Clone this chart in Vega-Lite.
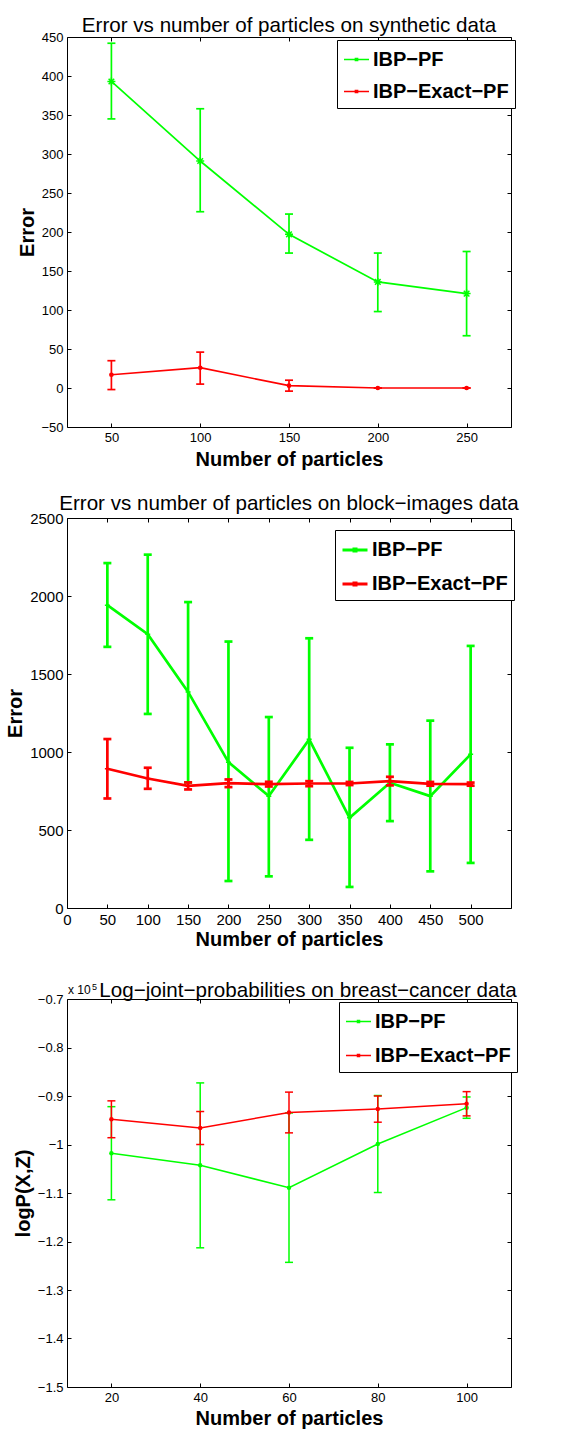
{
  "$schema": "https://vega.github.io/schema/vega-lite/v6.json",
  "padding": {"left": 5, "top": 15, "right": 5, "bottom": 5},
  "background": "white",
  "config": {
    "font": "Liberation Sans",
    "view": {"stroke": "black", "strokeWidth": 1},
    "axis": {
      "grid": false,
      "domain": false,
      "tickSize": -4,
      "tickColor": "black",
      "tickWidth": 1,
      "tickCount": 20,
      "labelColor": "black",
      "labelPadding": 8,
      "labelFlush": false,
      "labelOverlap": false,
      "titleColor": "black",
      "titleFontWeight": "bold",
      "titleFontSize": 20
    },
    "title": {"fontSize": 20.6, "fontWeight": "normal", "color": "black", "baseline": "alphabetic", "anchor": "middle"},
    "legend": {
      "title": null,
      "orient": "none",
      "strokeColor": "black",
      "fillColor": "white",
      "padding": 6,
      "labelFontSize": 20,
      "labelFontWeight": "bold",
      "labelColor": "black",
      "symbolType": "M-1,0H1M-0.08,-0.08H0.08V0.08H-0.08Z",
      "symbolSize": 625,
      "labelOffset": 3
    }
  },
  "bounds": "flush",
  "spacing": 91,
  "resolve": {"scale": {"color": "independent"}, "legend": {"color": "independent"}},
  "vconcat": [
    {
      "width": 444,
      "height": 390,
      "title": {"text": "Error vs number of particles on synthetic data", "offset": -6},
      "data": {"values": [
        {"particles": 50, "method": "IBP−PF", "err": 393, "lo": 345, "hi": 442},
        {"particles": 100, "method": "IBP−PF", "err": 291, "lo": 226, "hi": 358},
        {"particles": 150, "method": "IBP−PF", "err": 197, "lo": 173, "hi": 223},
        {"particles": 200, "method": "IBP−PF", "err": 136, "lo": 98, "hi": 173},
        {"particles": 250, "method": "IBP−PF", "err": 121, "lo": 67, "hi": 175},
        {"particles": 50, "method": "IBP−Exact−PF", "err": 17, "lo": -2, "hi": 35},
        {"particles": 100, "method": "IBP−Exact−PF", "err": 26, "lo": 5, "hi": 46},
        {"particles": 150, "method": "IBP−Exact−PF", "err": 3, "lo": -4, "hi": 10},
        {"particles": 200, "method": "IBP−Exact−PF", "err": 0, "lo": 0, "hi": 0},
        {"particles": 250, "method": "IBP−Exact−PF", "err": 0, "lo": 0, "hi": 0}
      ]},
      "encoding": {
        "x": {"field": "particles", "type": "quantitative", "scale": {"domain": [25, 275], "nice": false, "zero": false}},
        "color": {
          "field": "method", "type": "nominal",
          "scale": {"domain": ["IBP−PF", "IBP−Exact−PF"], "range": ["#00ff00", "#ff0000"]},
          "legend": {"legendX": 270, "legendY": 3, "symbolStrokeWidth": 1.7, "rowPadding": 8}
        }
      },
      "layer": [
        {
          "transform": [{"filter": "datum.method === 'IBP−PF'"}],
          "layer": [
            {"mark": {"type": "line", "strokeWidth": 1.7}, "encoding": {
              "x": {"field": "particles", "type": "quantitative", "scale": {"domain": [25, 275], "nice": false, "zero": false},
                    "axis": {"orient": "bottom", "values": [50, 100, 150, 200, 250], "tickCount": 20, "format": "d", "title": "Number of particles", "labelFontSize": 13, "titlePadding": 5, "labelOverlap": false}},
              "y": {"field": "err", "type": "quantitative", "scale": {"domain": [-50, 450], "nice": false, "zero": false},
                    "axis": {"orient": "left", "values": [-50, 0, 50, 100, 150, 200, 250, 300, 350, 400, 450], "tickCount": 20, "format": "d", "title": "Error", "labelFontSize": 13, "titlePadding": 3, "labelOverlap": false}}
            }},
            {"mark": {"type": "rule", "strokeWidth": 1.7}, "encoding": {"y": {"field": "lo", "type": "quantitative", "scale": {"domain": [-50, 450], "nice": false, "zero": false}}, "y2": {"field": "hi"}}},
            {"mark": {"type": "tick", "orient": "horizontal", "size": 8, "thickness": 1.7, "opacity": 1}, "encoding": {"y": {"field": "lo", "type": "quantitative", "scale": {"domain": [-50, 450], "nice": false, "zero": false}}}},
            {"mark": {"type": "tick", "orient": "horizontal", "size": 8, "thickness": 1.7, "opacity": 1}, "encoding": {"y": {"field": "hi", "type": "quantitative", "scale": {"domain": [-50, 450], "nice": false, "zero": false}}}},
            {"mark": {"type": "point", "shape": "M-1,0L1,0M0,-1L0,1M-0.7,-0.7L0.7,0.7M-0.7,0.7L0.7,-0.7", "size": 64, "filled": false, "strokeWidth": 1.5, "opacity": 1},
             "encoding": {"y": {"field": "err", "type": "quantitative", "scale": {"domain": [-50, 450], "nice": false, "zero": false}}}}
          ]
        },
        {
          "transform": [{"filter": "datum.method === 'IBP−Exact−PF'"}],
          "layer": [
            {"mark": {"type": "line", "strokeWidth": 1.7}, "encoding": {
              "x": {"field": "particles", "type": "quantitative", "scale": {"domain": [25, 275], "nice": false, "zero": false},
                    "axis": {"orient": "top", "values": [50, 100, 150, 200, 250], "tickCount": 20, "labels": false, "title": null}},
              "y": {"field": "err", "type": "quantitative", "scale": {"domain": [-50, 450], "nice": false, "zero": false},
                    "axis": {"orient": "right", "values": [-50, 0, 50, 100, 150, 200, 250, 300, 350, 400, 450], "tickCount": 20, "labels": false, "title": null}}
            }},
            {"mark": {"type": "rule", "strokeWidth": 1.7}, "encoding": {"y": {"field": "lo", "type": "quantitative", "scale": {"domain": [-50, 450], "nice": false, "zero": false}}, "y2": {"field": "hi"}}},
            {"mark": {"type": "tick", "orient": "horizontal", "size": 8, "thickness": 1.7, "opacity": 1}, "encoding": {"y": {"field": "lo", "type": "quantitative", "scale": {"domain": [-50, 450], "nice": false, "zero": false}}}},
            {"mark": {"type": "tick", "orient": "horizontal", "size": 8, "thickness": 1.7, "opacity": 1}, "encoding": {"y": {"field": "hi", "type": "quantitative", "scale": {"domain": [-50, 450], "nice": false, "zero": false}}}},
            {"mark": {"type": "point", "shape": "circle", "size": 22, "filled": true, "opacity": 1},
             "encoding": {"y": {"field": "err", "type": "quantitative", "scale": {"domain": [-50, 450], "nice": false, "zero": false}}}}
          ]
        }
      ],
      "resolve": {"axis": {"x": "independent", "y": "independent"}}
    },
    {
      "width": 444,
      "height": 390,
      "title": {"text": "Error vs number of particles on block−images data", "offset": -4},
      "data": {"values": [
        {"particles": 50, "method": "IBP−PF", "err": 1941, "lo": 1674, "hi": 2211},
        {"particles": 100, "method": "IBP−PF", "err": 1755, "lo": 1244, "hi": 2265},
        {"particles": 150, "method": "IBP−PF", "err": 1385, "lo": 805, "hi": 1961},
        {"particles": 200, "method": "IBP−PF", "err": 935, "lo": 173, "hi": 1708},
        {"particles": 250, "method": "IBP−PF", "err": 717, "lo": 203, "hi": 1224},
        {"particles": 300, "method": "IBP−PF", "err": 1081, "lo": 437, "hi": 1729},
        {"particles": 350, "method": "IBP−PF", "err": 578, "lo": 135, "hi": 1027},
        {"particles": 400, "method": "IBP−PF", "err": 803, "lo": 557, "hi": 1049},
        {"particles": 450, "method": "IBP−PF", "err": 717, "lo": 235, "hi": 1201},
        {"particles": 500, "method": "IBP−PF", "err": 985, "lo": 289, "hi": 1680},
        {"particles": 50, "method": "IBP−Exact−PF", "err": 893, "lo": 702, "hi": 1083},
        {"particles": 100, "method": "IBP−Exact−PF", "err": 830, "lo": 764, "hi": 899},
        {"particles": 150, "method": "IBP−Exact−PF", "err": 783, "lo": 760, "hi": 805},
        {"particles": 200, "method": "IBP−Exact−PF", "err": 800, "lo": 775, "hi": 824},
        {"particles": 250, "method": "IBP−Exact−PF", "err": 794, "lo": 779, "hi": 809},
        {"particles": 300, "method": "IBP−Exact−PF", "err": 798, "lo": 781, "hi": 813},
        {"particles": 350, "method": "IBP−Exact−PF", "err": 798, "lo": 788, "hi": 808},
        {"particles": 400, "method": "IBP−Exact−PF", "err": 813, "lo": 786, "hi": 841},
        {"particles": 450, "method": "IBP−Exact−PF", "err": 796, "lo": 784, "hi": 808},
        {"particles": 500, "method": "IBP−Exact−PF", "err": 794, "lo": 784, "hi": 804}
      ]},
      "encoding": {
        "x": {"field": "particles", "type": "quantitative", "scale": {"domain": [0, 550], "nice": false, "zero": false}},
        "color": {
          "field": "method", "type": "nominal",
          "scale": {"domain": ["IBP−PF", "IBP−Exact−PF"], "range": ["#00ff00", "#ff0000"]},
          "legend": {"legendX": 268, "legendY": 12, "symbolStrokeWidth": 3, "rowPadding": 10}
        }
      },
      "layer": [
        {
          "transform": [{"filter": "datum.method === 'IBP−PF'"}],
          "layer": [
            {"mark": {"type": "line", "strokeWidth": 2.7}, "encoding": {
              "x": {"field": "particles", "type": "quantitative", "scale": {"domain": [0, 550], "nice": false, "zero": false},
                    "axis": {"orient": "bottom", "values": [0, 50, 100, 150, 200, 250, 300, 350, 400, 450, 500], "tickCount": 20, "format": "d", "title": "Number of particles", "labelFontSize": 15, "titlePadding": 2, "labelOverlap": false}},
              "y": {"field": "err", "type": "quantitative", "scale": {"domain": [0, 2500], "nice": false, "zero": false},
                    "axis": {"orient": "left", "values": [0, 500, 1000, 1500, 2000, 2500], "tickCount": 20, "format": "d", "title": "Error", "labelFontSize": 15, "titlePadding": 4, "labelOverlap": false}}
            }},
            {"mark": {"type": "rule", "strokeWidth": 2.7}, "encoding": {"y": {"field": "lo", "type": "quantitative", "scale": {"domain": [0, 2500], "nice": false, "zero": false}}, "y2": {"field": "hi"}}},
            {"mark": {"type": "tick", "orient": "horizontal", "size": 8, "thickness": 2.7, "opacity": 1}, "encoding": {"y": {"field": "lo", "type": "quantitative", "scale": {"domain": [0, 2500], "nice": false, "zero": false}}}},
            {"mark": {"type": "tick", "orient": "horizontal", "size": 8, "thickness": 2.7, "opacity": 1}, "encoding": {"y": {"field": "hi", "type": "quantitative", "scale": {"domain": [0, 2500], "nice": false, "zero": false}}}},
            {"mark": {"type": "point", "shape": "M-1,0L1,0M0,-1L0,1", "size": 25, "filled": false, "strokeWidth": 1.5, "opacity": 1},
             "encoding": {"y": {"field": "err", "type": "quantitative", "scale": {"domain": [0, 2500], "nice": false, "zero": false}}}}
          ]
        },
        {
          "transform": [{"filter": "datum.method === 'IBP−Exact−PF'"}],
          "layer": [
            {"mark": {"type": "line", "strokeWidth": 2.7}, "encoding": {
              "x": {"field": "particles", "type": "quantitative", "scale": {"domain": [0, 550], "nice": false, "zero": false},
                    "axis": {"orient": "top", "values": [0, 50, 100, 150, 200, 250, 300, 350, 400, 450, 500], "tickCount": 20, "labels": false, "title": null}},
              "y": {"field": "err", "type": "quantitative", "scale": {"domain": [0, 2500], "nice": false, "zero": false},
                    "axis": {"orient": "right", "values": [0, 500, 1000, 1500, 2000, 2500], "tickCount": 20, "labels": false, "title": null}}
            }},
            {"mark": {"type": "rule", "strokeWidth": 2.7}, "encoding": {"y": {"field": "lo", "type": "quantitative", "scale": {"domain": [0, 2500], "nice": false, "zero": false}}, "y2": {"field": "hi"}}},
            {"mark": {"type": "tick", "orient": "horizontal", "size": 8, "thickness": 2.7, "opacity": 1}, "encoding": {"y": {"field": "lo", "type": "quantitative", "scale": {"domain": [0, 2500], "nice": false, "zero": false}}}},
            {"mark": {"type": "tick", "orient": "horizontal", "size": 8, "thickness": 2.7, "opacity": 1}, "encoding": {"y": {"field": "hi", "type": "quantitative", "scale": {"domain": [0, 2500], "nice": false, "zero": false}}}},
            {"mark": {"type": "point", "shape": "M-1,0L1,0M0,-1L0,1", "size": 25, "filled": false, "strokeWidth": 1.5, "opacity": 1},
             "encoding": {"y": {"field": "err", "type": "quantitative", "scale": {"domain": [0, 2500], "nice": false, "zero": false}}}}
          ]
        }
      ],
      "resolve": {"axis": {"x": "independent", "y": "independent"}}
    },
    {
      "width": 444,
      "height": 388,
      "title": {"text": "Log−joint−probabilities on breast−cancer data", "offset": -19, "dx": 19},
      "data": {"values": [
        {"particles": 20, "method": "IBP−PF", "logp_1e5": -1.018, "lo": -1.114, "hi": -0.922},
        {"particles": 40, "method": "IBP−PF", "logp_1e5": -1.043, "lo": -1.213, "hi": -0.873},
        {"particles": 60, "method": "IBP−PF", "logp_1e5": -1.089, "lo": -1.243, "hi": -0.935},
        {"particles": 80, "method": "IBP−PF", "logp_1e5": -0.999, "lo": -1.099, "hi": -0.899},
        {"particles": 100, "method": "IBP−PF", "logp_1e5": -0.924, "lo": -0.946, "hi": -0.902},
        {"particles": 20, "method": "IBP−Exact−PF", "logp_1e5": -0.948, "lo": -0.986, "hi": -0.910},
        {"particles": 40, "method": "IBP−Exact−PF", "logp_1e5": -0.966, "lo": -1.000, "hi": -0.932},
        {"particles": 60, "method": "IBP−Exact−PF", "logp_1e5": -0.934, "lo": -0.976, "hi": -0.892},
        {"particles": 80, "method": "IBP−Exact−PF", "logp_1e5": -0.927, "lo": -0.954, "hi": -0.900},
        {"particles": 100, "method": "IBP−Exact−PF", "logp_1e5": -0.916, "lo": -0.941, "hi": -0.891}
      ]},
      "encoding": {
        "x": {"field": "particles", "type": "quantitative", "scale": {"domain": [10, 110], "nice": false, "zero": false}},
        "color": {
          "field": "method", "type": "nominal",
          "scale": {"domain": ["IBP−PF", "IBP−Exact−PF"], "range": ["#00ff00", "#ff0000"]},
          "legend": {"legendX": 272, "legendY": 3, "symbolStrokeWidth": 1.5, "rowPadding": 10}
        }
      },
      "layer": [
        {
          "transform": [{"filter": "datum.method === 'IBP−PF'"}],
          "layer": [
            {"mark": {"type": "line", "strokeWidth": 1.5}, "encoding": {
              "x": {"field": "particles", "type": "quantitative", "scale": {"domain": [10, 110], "nice": false, "zero": false},
                    "axis": {"orient": "bottom", "values": [20, 40, 60, 80, 100], "tickCount": 20, "format": "d", "title": "Number of particles", "labelFontSize": 13, "titlePadding": 4, "labelOverlap": false}},
              "y": {"field": "logp_1e5", "type": "quantitative", "scale": {"domain": [-1.5, -0.7], "nice": false, "zero": false},
                    "axis": {"orient": "left", "values": [-1.5, -1.4, -1.3, -1.2, -1.1, -1, -0.9, -0.8, -0.7], "tickCount": 20, "format": ".1~f", "title": "logP(X,Z)", "labelFontSize": 13, "titlePadding": 4, "labelOverlap": false}}
            }},
            {"mark": {"type": "rule", "strokeWidth": 1.5}, "encoding": {"y": {"field": "lo", "type": "quantitative", "scale": {"domain": [-1.5, -0.7], "nice": false, "zero": false}}, "y2": {"field": "hi"}}},
            {"mark": {"type": "tick", "orient": "horizontal", "size": 8, "thickness": 1.5, "opacity": 1}, "encoding": {"y": {"field": "lo", "type": "quantitative", "scale": {"domain": [-1.5, -0.7], "nice": false, "zero": false}}}},
            {"mark": {"type": "tick", "orient": "horizontal", "size": 8, "thickness": 1.5, "opacity": 1}, "encoding": {"y": {"field": "hi", "type": "quantitative", "scale": {"domain": [-1.5, -0.7], "nice": false, "zero": false}}}},
            {"mark": {"type": "point", "shape": "circle", "size": 20, "filled": true, "opacity": 1},
             "encoding": {"y": {"field": "logp_1e5", "type": "quantitative", "scale": {"domain": [-1.5, -0.7], "nice": false, "zero": false}}}}
          ]
        },
        {
          "transform": [{"filter": "datum.method === 'IBP−Exact−PF'"}],
          "layer": [
            {"mark": {"type": "line", "strokeWidth": 1.5}, "encoding": {
              "x": {"field": "particles", "type": "quantitative", "scale": {"domain": [10, 110], "nice": false, "zero": false},
                    "axis": {"orient": "top", "values": [20, 40, 60, 80, 100], "tickCount": 20, "labels": false, "title": null}},
              "y": {"field": "logp_1e5", "type": "quantitative", "scale": {"domain": [-1.5, -0.7], "nice": false, "zero": false},
                    "axis": {"orient": "right", "values": [-1.5, -1.4, -1.3, -1.2, -1.1, -1, -0.9, -0.8, -0.7], "tickCount": 20, "labels": false, "title": null}}
            }},
            {"mark": {"type": "rule", "strokeWidth": 1.5}, "encoding": {"y": {"field": "lo", "type": "quantitative", "scale": {"domain": [-1.5, -0.7], "nice": false, "zero": false}}, "y2": {"field": "hi"}}},
            {"mark": {"type": "tick", "orient": "horizontal", "size": 8, "thickness": 1.5, "opacity": 1}, "encoding": {"y": {"field": "lo", "type": "quantitative", "scale": {"domain": [-1.5, -0.7], "nice": false, "zero": false}}}},
            {"mark": {"type": "tick", "orient": "horizontal", "size": 8, "thickness": 1.5, "opacity": 1}, "encoding": {"y": {"field": "hi", "type": "quantitative", "scale": {"domain": [-1.5, -0.7], "nice": false, "zero": false}}}},
            {"mark": {"type": "point", "shape": "circle", "size": 20, "filled": true, "opacity": 1},
             "encoding": {"y": {"field": "logp_1e5", "type": "quantitative", "scale": {"domain": [-1.5, -0.7], "nice": false, "zero": false}}}}
          ]
        },
        {
          "data": {"values": [{"base": "x 10", "power": "5", "px": 10, "top": -0.7}]},
          "mark": {"type": "text", "align": "left", "baseline": "alphabetic", "fontSize": 12, "dx": 1, "dy": -5, "color": "black"},
          "encoding": {
            "x": {"field": "px", "type": "quantitative", "scale": {"domain": [10, 110], "nice": false, "zero": false}, "axis": null},
            "y": {"field": "top", "type": "quantitative", "scale": {"domain": [-1.5, -0.7], "nice": false, "zero": false}, "axis": null},
            "text": {"field": "base"},
            "color": {"value": "black"}
          }
        },
        {
          "data": {"values": [{"base": "x 10", "power": "5", "px": 10, "top": -0.7}]},
          "mark": {"type": "text", "align": "left", "baseline": "alphabetic", "fontSize": 9, "dx": 25, "dy": -9, "color": "black"},
          "encoding": {
            "x": {"field": "px", "type": "quantitative", "scale": {"domain": [10, 110], "nice": false, "zero": false}, "axis": null},
            "y": {"field": "top", "type": "quantitative", "scale": {"domain": [-1.5, -0.7], "nice": false, "zero": false}, "axis": null},
            "text": {"field": "power"},
            "color": {"value": "black"}
          }
        }
      ],
      "resolve": {"axis": {"x": "independent", "y": "independent"}}
    }
  ]
}
